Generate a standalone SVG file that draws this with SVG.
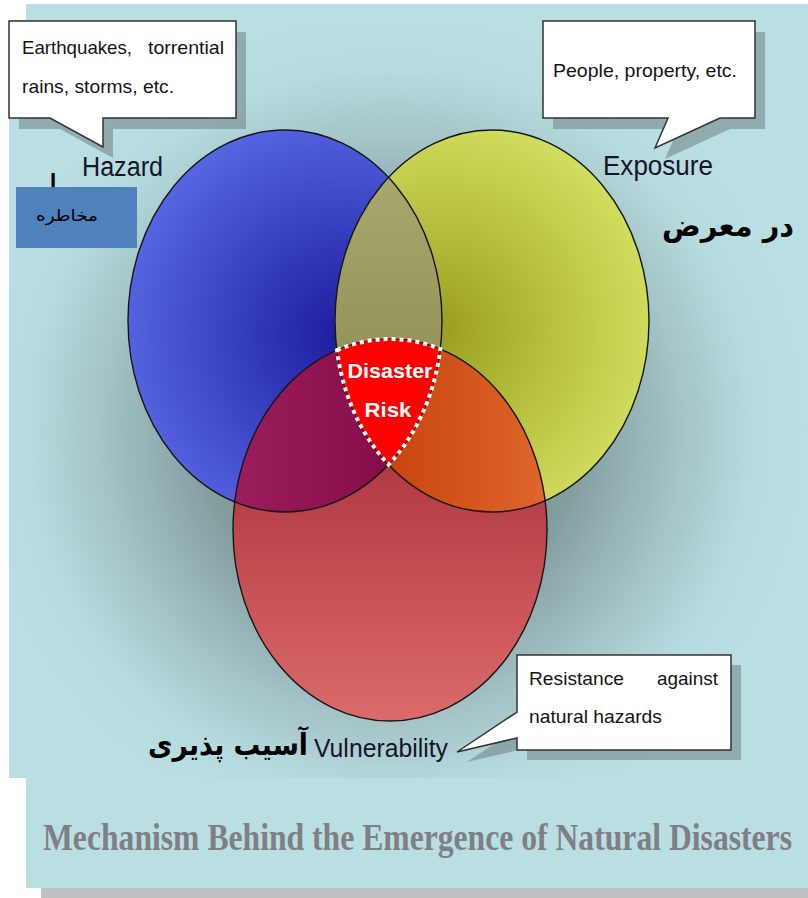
<svg xmlns="http://www.w3.org/2000/svg" width="808" height="898" viewBox="0 0 808 898">
<defs>
<style>
.lbl{font-family:"Liberation Sans",Arial,sans-serif;fill:#15152a}
.cap{font-family:"Liberation Sans",Arial,sans-serif;font-size:19px;fill:#141414}
.fa{font-family:"DejaVu Sans",sans-serif;font-weight:bold;fill:#000}
.box{fill:#fff;stroke:#333;stroke-width:1.5;stroke-linejoin:miter}
.shadow{fill:#6f8284;opacity:.55}
.ring{fill:none;stroke:#161616;stroke-width:1.4}
.risk{font-family:"Liberation Sans",Arial,sans-serif;font-weight:bold;font-size:21px;fill:#fff;text-anchor:middle}
</style>
<radialGradient id="bgShade" gradientUnits="userSpaceOnUse" cx="390" cy="430" r="420">
<stop offset="0" stop-color="#5c7476"/>
<stop offset="0.45" stop-color="#849ea0"/>
<stop offset="0.68" stop-color="#a3c2c5"/>
<stop offset="0.86" stop-color="#b5dbde"/>
<stop offset="1" stop-color="#b9dfe2"/>
</radialGradient>
<radialGradient id="gBlue" gradientUnits="userSpaceOnUse" cx="345" cy="335" r="240">
<stop offset="0" stop-color="#1c1c9c"/>
<stop offset="0.35" stop-color="#2f37b8"/>
<stop offset="1" stop-color="#5a6ae6"/>
</radialGradient>
<radialGradient id="gYellow" gradientUnits="userSpaceOnUse" cx="440" cy="330" r="240">
<stop offset="0" stop-color="#9a9e1e"/>
<stop offset="0.35" stop-color="#b0b838"/>
<stop offset="1" stop-color="#d8e466"/>
</radialGradient>
<linearGradient id="gRed" gradientUnits="userSpaceOnUse" x1="0" y1="340" x2="0" y2="720">
<stop offset="0" stop-color="#9c2230"/>
<stop offset="1" stop-color="#dc6a6a"/>
</linearGradient>
<linearGradient id="gOlive" gradientUnits="userSpaceOnUse" x1="0" y1="175" x2="0" y2="465">
<stop offset="0" stop-color="#a8a86c"/>
<stop offset="1" stop-color="#888850"/>
</linearGradient>
<linearGradient id="gPurple" gradientUnits="userSpaceOnUse" x1="233" y1="0" x2="390" y2="0">
<stop offset="0" stop-color="#9a1e5c"/>
<stop offset="1" stop-color="#860c48"/>
</linearGradient>
<linearGradient id="gOrange" gradientUnits="userSpaceOnUse" x1="390" y1="0" x2="546" y2="0">
<stop offset="0" stop-color="#c8460e"/>
<stop offset="1" stop-color="#e0662a"/>
</linearGradient>
<clipPath id="cBlue"><ellipse cx="285" cy="321" rx="157" ry="191"/></clipPath>
<clipPath id="cYellow"><ellipse cx="492" cy="321" rx="157" ry="191"/></clipPath>
</defs>

<g id="background">
<rect x="26" y="4" width="782" height="884" fill="#b9dfe2"/>
<rect x="41" y="888" width="767" height="10" fill="#c0c0c0"/>
<rect x="9" y="20" width="799" height="758" fill="#b9dfe2"/>
<rect x="9" y="20" width="799" height="758" fill="url(#bgShade)"/>
</g>

<g id="node-hazard">
<ellipse cx="285" cy="321" rx="157" ry="191" fill="url(#gBlue)"/>
</g>
<g id="node-exposure">
<ellipse cx="492" cy="321" rx="157" ry="191" fill="url(#gYellow)"/>
</g>
<g id="node-vulnerability">
<ellipse cx="390" cy="530" rx="157" ry="191" fill="url(#gRed)"/>
</g>
<g id="overlaps">
<ellipse cx="492" cy="321" rx="157" ry="191" fill="url(#gOlive)" clip-path="url(#cBlue)"/>
<ellipse cx="390" cy="530" rx="157" ry="191" fill="url(#gPurple)" clip-path="url(#cBlue)"/>
<ellipse cx="390" cy="530" rx="157" ry="191" fill="url(#gOrange)" clip-path="url(#cYellow)"/>
</g>
<g id="outlines">
<ellipse class="ring" cx="285" cy="321" rx="157" ry="191"/>
<ellipse class="ring" cx="492" cy="321" rx="157" ry="191"/>
<ellipse class="ring" cx="390" cy="530" rx="157" ry="191"/>
</g>

<g id="node-risk">
<path d="M337.1,350.2 A157,191 0 0 1 440.3,349.1 A157,191 0 0 1 388.5,464.6 A157,191 0 0 1 337.1,350.2 Z" fill="#ff0000" stroke="#fff" stroke-width="4" stroke-dasharray="4 4"/>
<text class="risk" x="390" y="378" textLength="85" lengthAdjust="spacingAndGlyphs">Disaster</text>
<text class="risk" x="388" y="417" textLength="47" lengthAdjust="spacingAndGlyphs">Risk</text>
</g>

<g id="connectors"></g>

<g id="callout-hazard">
<path class="shadow" d="M19,32 H246 V129 H113 V158 L60,129 H19 Z"/>
<path class="box" d="M9,21 H236 V118 H103 V147 L50,118 H9 Z"/>
<text class="cap" x="22" y="54" textLength="110" lengthAdjust="spacingAndGlyphs">Earthquakes,</text>
<text class="cap" x="148" y="54" textLength="76" lengthAdjust="spacingAndGlyphs">torrential</text>
<text class="cap" x="22" y="93" textLength="152" lengthAdjust="spacingAndGlyphs">rains, storms, etc.</text>
</g>

<g id="callout-exposure">
<path class="shadow" d="M553,32 H765 V129 H730 L665,159 L678,129 H553 Z"/>
<path class="box" d="M543,21 H755 V118 H720 L655,148 L668,118 H543 Z"/>
<text class="cap" x="553" y="77" textLength="184" lengthAdjust="spacingAndGlyphs">People, property, etc.</text>
</g>

<g id="callout-vulnerability">
<path class="shadow" d="M527,665 H741 V760 H527 V748 L467,762 L527,722 Z"/>
<path class="box" d="M517,655 H731 V750 H517 V738 L457,752 L517,712 Z"/>
<text class="cap" x="529" y="685" textLength="95" lengthAdjust="spacingAndGlyphs">Resistance</text>
<text class="cap" x="657" y="685" textLength="61" lengthAdjust="spacingAndGlyphs">against</text>
<text class="cap" x="529" y="723" textLength="133" lengthAdjust="spacingAndGlyphs">natural hazards</text>
</g>

<g id="labels">
<text class="fa" x="50" y="187" font-size="18">ا</text>
<text class="lbl" x="82" y="176" font-size="27" textLength="81" lengthAdjust="spacingAndGlyphs">Hazard</text>
<text class="lbl" x="603" y="175" font-size="27" textLength="110" lengthAdjust="spacingAndGlyphs">Exposure</text>
<text class="lbl" x="314" y="757" font-size="26" textLength="134" lengthAdjust="spacingAndGlyphs">Vulnerability</text>
<text class="fa" x="662" y="236" font-size="30" textLength="132" lengthAdjust="spacingAndGlyphs">در معرض</text>
<text class="fa" x="148" y="755" font-size="30" textLength="160" lengthAdjust="spacingAndGlyphs">آسیب پذیری</text>
</g>

<g id="persian-box">
<rect x="16" y="187" width="121" height="61" fill="#4f81bd"/>
<text x="36" y="221" font-family="DejaVu Sans, sans-serif" font-size="16" fill="#000" textLength="62" lengthAdjust="spacingAndGlyphs">مخاطره</text>
</g>

<g id="title">
<text transform="scale(1,1.25)" x="43" y="680" font-family="Liberation Serif, 'Times New Roman', serif" font-weight="bold" font-size="30" fill="#7f7f85" textLength="749" lengthAdjust="spacingAndGlyphs">Mechanism Behind the Emergence of Natural Disasters</text>
</g>
</svg>
